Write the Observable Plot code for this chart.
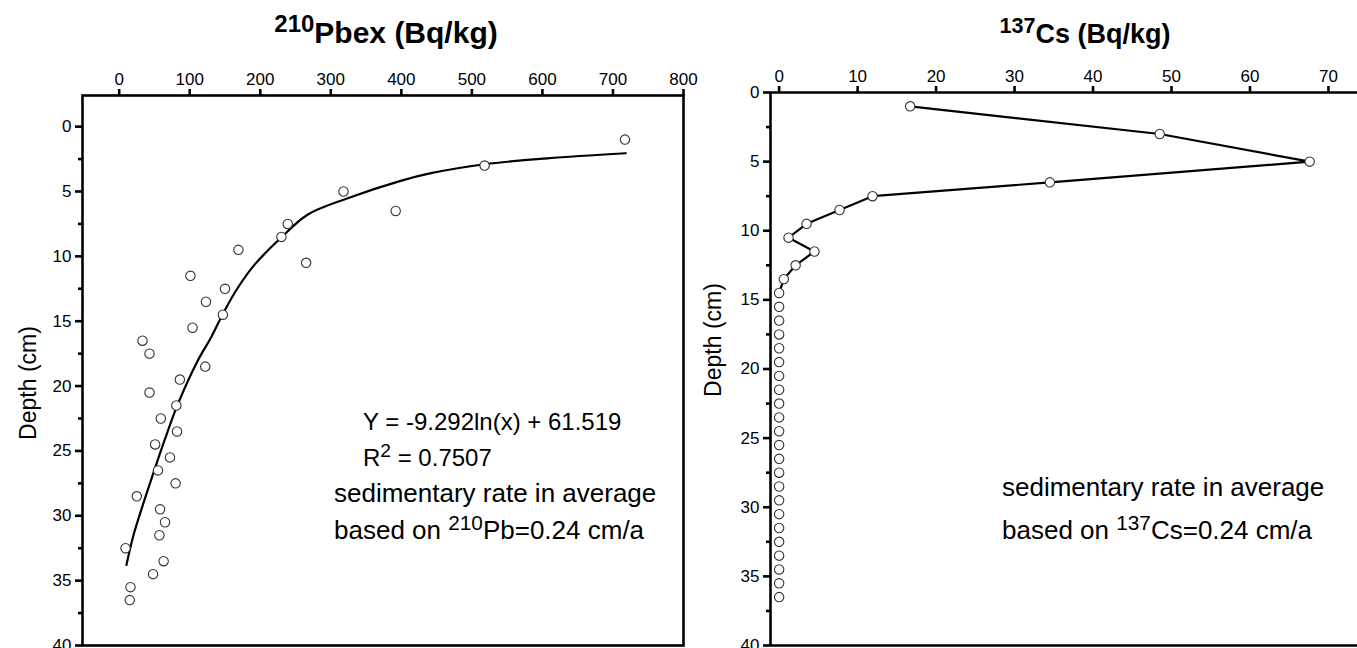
<!DOCTYPE html>
<html><head><meta charset="utf-8">
<script src="https://cdn.jsdelivr.net/npm/d3@7"></script>
<script src="https://cdn.jsdelivr.net/npm/@observablehq/plot@0.6"></script>
<style>
body{margin:0;background:#fff;font-family:"Liberation Sans",Arial,sans-serif;}
#wrap{position:relative;width:1357px;height:648px;overflow:hidden;background:#fff;}
#wrap svg{position:absolute;top:0;}
.abs{position:absolute;white-space:nowrap;color:#000;line-height:1;}
.sup{font-size:0.8em;position:relative;top:-0.45em;}
</style></head><body><div id="wrap"></div>
<script>
// 210Pbex panel
const pbDepth = [1,3,5,6.5,7.5,8.5,9.5,10.5,11.5,12.5,13.5,14.5,15.5,16.5,17.5,18.5,19.5,20.5,21.5,22.5,23.5,24.5,25.5,26.5,27.5,28.5,29.5,30.5,31.5,32.5,33.5,34.5,35.5,36.5];
const pbValue = [717,518,318,392,239,230,169,265,101,150,123,147,104,33,43,122,86,43,81,59,82,51,72,55,80,25,58,65,57,9,63,48,16,15];
// fitted curve, points
const fitValue = [718,607,518,442,399,324,267,229,192,168,149,130,111,83,64,48,31,19.4,10.3];
const fitDepth = [2.05,2.44,2.9,3.59,4.18,5.52,6.79,8.59,10.64,12.44,14.23,16.28,18.08,21.41,24.23,26.79,29.6,31.67,33.79];
const pbTicks = [0,100,200,300,400,500,600,700,800];
// 137Cs panel
const csDepth = [1,3,5,6.5,7.5,8.5,9.5,10.5,11.5,12.5,13.5,14.5,15.5,16.5,17.5,18.5,19.5,20.5,21.5,22.5,23.5,24.5,25.5,26.5,27.5,28.5,29.5,30.5,31.5,32.5,33.5,34.5,35.5,36.5];
const csValue = [16.7,48.5,67.6,34.5,11.9,7.7,3.5,1.2,4.5,2.1,0.6,0,0,0,0,0,0,0,0,0,0,0,0,0,0,0,0,0,0,0,0,0,0,0];
const csLineCount = 12; // line drawn through the first 12 samples
const csTicks = [0,10,20,30,40,50,60,70];
const depthTicks = [0,5,10,15,20,25,30,35,40];
const depthMinor = [2.5,7.5,12.5,17.5,22.5,27.5,32.5,37.5];

const FONT = '"Liberation Sans", Arial, sans-serif';
const pb = pbDepth.map((d,i)=>({depth:d, value:pbValue[i]}));
const fit = fitDepth.map((d,i)=>({depth:d, value:fitValue[i]}));
const cs = csDepth.map((d,i)=>({depth:d, value:csValue[i]}));

const wrap = document.getElementById("wrap");

const left = Plot.plot({
  width: 700, height: 648,
  marginLeft: 82, marginRight: 17, marginTop: 95, marginBottom: 3,
  x: {domain: [-52, 800], axis: null},
  y: {domain: [-2.4, 40], reverse: true, axis: null},
  style: {fontFamily: FONT, fontSize: "17px", color: "#000", background: "transparent", overflow: "visible"},
  marks: [
    Plot.frame({strokeWidth: 2.6}),
    Plot.axisX({ticks: pbTicks, anchor: "top", tickSize: 7, tickPadding: 4, strokeWidth: 2.6, fontSize: 17, label: null}),
    Plot.axisY({ticks: depthTicks, anchor: "left", tickSize: 7, tickPadding: 4, strokeWidth: 2.6, fontSize: 17, label: null}),
    Plot.axisY({ticks: depthMinor, anchor: "left", tickSize: 4, strokeWidth: 2.6, tickFormat: () => "", label: null}),
    Plot.line(fit, {x: "value", y: "depth", curve: "catmull-rom", stroke: "#000", strokeWidth: 2.2}),
    Plot.dot(pb, {x: "value", y: "depth", r: 4.7, fill: "#fff", stroke: "#333", strokeWidth: 1.1})
  ]
});
left.style.left = "0px";
wrap.appendChild(left);

const right = Plot.plot({
  width: 657, height: 648,
  marginLeft: 70, marginRight: 0, marginTop: 92, marginBottom: 3,
  x: {domain: [-1.1, 73.7], axis: null},
  y: {domain: [0, 40], reverse: true, axis: null},
  style: {fontFamily: FONT, fontSize: "17px", color: "#000", background: "transparent", overflow: "visible"},
  marks: [
    Plot.ruleY([0, 40], {strokeWidth: 2.6}),
    Plot.ruleX([-1.1], {strokeWidth: 2.6}),
    Plot.axisX({ticks: csTicks, anchor: "top", tickSize: 7, tickPadding: 4, strokeWidth: 2.6, fontSize: 17, label: null}),
    Plot.axisY({ticks: depthTicks, anchor: "left", tickSize: 7, tickPadding: 4, strokeWidth: 2.6, fontSize: 17, label: null}),
    Plot.axisY({ticks: depthMinor, anchor: "left", tickSize: 4, strokeWidth: 2.6, tickFormat: () => "", label: null}),
    Plot.line(cs.slice(0, csLineCount), {x: "value", y: "depth", stroke: "#000", strokeWidth: 2.2}),
    Plot.dot(cs, {x: "value", y: "depth", r: 4.7, fill: "#fff", stroke: "#333", strokeWidth: 1.1})
  ]
});
right.style.left = "700px";
wrap.appendChild(right);

function addText(html, css) {
  const d = document.createElement("div");
  d.className = "abs";
  d.innerHTML = html;
  Object.assign(d.style, css);
  wrap.appendChild(d);
  return d;
}
// titles
addText('<span class="sup">210</span>Pbex (Bq/kg)', {left: "386px", top: "33px", fontSize: "30px", fontWeight: "bold", transform: "translate(-50%,-50%)"});
addText('<span class="sup">137</span>Cs (Bq/kg)', {left: "1085px", top: "34px", fontSize: "27px", fontWeight: "bold", transform: "translate(-50%,-50%)"});
// axis titles
addText('Depth (cm)', {left: "28px", top: "383px", fontSize: "23px", transform: "translate(-50%,-50%) rotate(-90deg)"});
addText('Depth (cm)', {left: "713px", top: "340px", fontSize: "23px", transform: "translate(-50%,-50%) rotate(-90deg)"});
// annotations
addText('Y = -9.292ln(x) + 61.519', {left: "363px", top: "422px", fontSize: "24px", transform: "translateY(-50%)"});
addText('R<span class="sup">2</span> = 0.7507', {left: "363px", top: "458px", fontSize: "24px", transform: "translateY(-50%)"});
addText('sedimentary rate in average', {left: "334px", top: "493px", fontSize: "26px", transform: "translateY(-50%)"});
addText('based on <span class="sup">210</span>Pb=0.24 cm/a', {left: "334px", top: "530px", fontSize: "26px", transform: "translateY(-50%)"});
addText('sedimentary rate in average', {left: "1002px", top: "487px", fontSize: "26px", transform: "translateY(-50%)"});
addText('based on <span class="sup">137</span>Cs=0.24 cm/a', {left: "1002px", top: "530px", fontSize: "26px", transform: "translateY(-50%)"});
</script></body></html>
